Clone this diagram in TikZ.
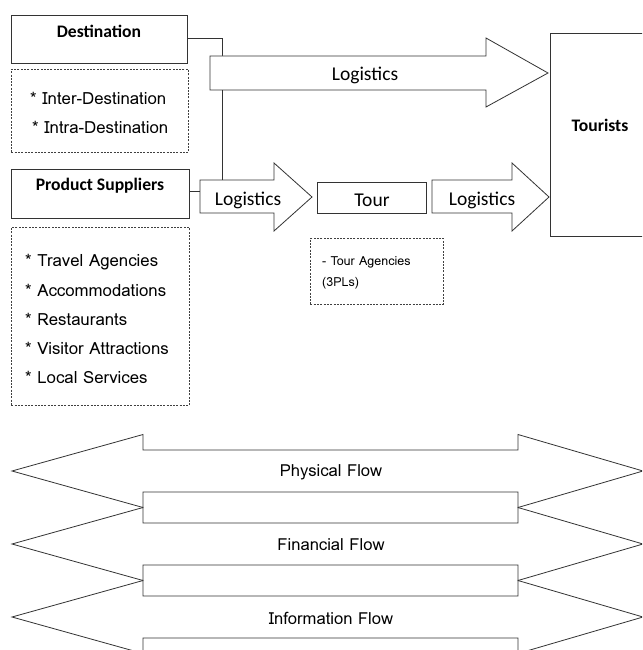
\documentclass[tikz,border=0pt]{standalone}
\usepackage{fontspec}
\setmainfont{Carlito}
\newfontfamily\thinfont{Loma}
\begin{document}
\begin{tikzpicture}[x=1pt,y=-1pt,
  line/.style={draw=black!80, line width=0.8pt},
  boxline/.style={draw=black!80, line width=0.8pt, fill=white},
  dashbox/.style={draw=black!75, line width=0.8pt, dash pattern=on 2pt off 1.3pt},
  boldlbl/.style={font=\bfseries\fontsize{17.6}{20}\selectfont, inner sep=0pt},
  loglbl/.style={font=\fontsize{19.5}{22}\selectfont, inner sep=0pt},
  listlbl/.style={font=\thinfont\fontsize{16.8}{19}\selectfont, inner sep=0pt, anchor=west},
  flowlbl/.style={font=\thinfont\fontsize{16.6}{19}\selectfont, inner sep=0pt},
  smalllbl/.style={font=\thinfont\fontsize{12.5}{14}\selectfont, inner sep=0pt, anchor=west}
]
\clip (0,0) rectangle (642,650);
\fill[white] (0,0) rectangle (642,650);

% Destination
\node[boxline, minimum width=176pt, minimum height=48pt, inner sep=0pt, anchor=north west] (dest) at (11,15) {};
\node[boldlbl] (desttxt) at (99,31) {Destination};
\node[dashbox, minimum width=177pt, minimum height=83pt, inner sep=0pt, anchor=north west] (destlist) at (11,69) {};
\node[listlbl] (inter) at (30,98) {* Inter-Destination};
\node[listlbl] (intra) at (32,127) {* Intra-Destination};

% Product suppliers
\node[boxline, minimum width=178pt, minimum height=49pt, inner sep=0pt, anchor=north west] (supp) at (11,169) {};
\node[boldlbl] (supptxt) at (100,186) {Product Suppliers};
\node[dashbox, minimum width=178pt, minimum height=178pt, inner sep=0pt, anchor=north west] (supplist) at (11,227) {};
\node[listlbl] (l1) at (25,262) {* Travel Agencies};
\node[listlbl] (l2) at (25,290) {* Accommodations};
\node[listlbl] (l3) at (25,319) {* Restaurants};
\node[listlbl] (l4) at (25,348) {* Visitor Attractions};
\node[listlbl] (l5) at (25,377) {* Local Services};

% connector coordinates
\coordinate (la1in) at (200,191);
\coordinate (la1top) at (222,180);
\coordinate (bend) at (222,38);

% connectors (drawn under arrows)
\draw[line] (dest.east |- bend) -- (bend) -- (la1top);
\draw[line] (supp.east |- la1in) -- (la1in);

% top logistics arrow
\draw[boxline] (210,56) -- (486,56) -- (486,38) -- (548,73) -- (486,107) -- (486,90) -- (210,90) -- cycle;
\node[loglbl] (toplog) at (365,75) {Logistics};

% logistics arrow 1
\draw[boxline] (200,180) -- (274,180) -- (274,163) -- (312,197) -- (274,231) -- (274,213) -- (200,213) -- cycle;
\node[loglbl] (log1) at (248,200) {Logistics};

% tour
\node[boxline, minimum width=109pt, minimum height=31pt, inner sep=0pt, anchor=north west] (tour) at (317,182) {};
\node[loglbl] (tourtxt) at (372,200) {Tour};
\node[dashbox, minimum width=133pt, minimum height=66pt, inner sep=0pt, anchor=north west] (tourag) at (310,238) {};
\node[smalllbl] (ta1) at (322,262) {- Tour Agencies};
\node[smalllbl] (ta2) at (322,283) {(3PLs)};

% logistics arrow 2
\draw[boxline] (432,180) -- (512,180) -- (512,163) -- (549,197) -- (512,231) -- (512,213) -- (432,213) -- cycle;
\node[loglbl] (log2) at (482,200) {Logistics};

% tourists
\node[boxline, minimum width=100pt, minimum height=203pt, inner sep=0pt, anchor=north west] (tourists) at (550,33) {};
\node[boldlbl] (touriststxt) at (600,125) {Tourists};

% flows
\foreach \c/\t in {471/Physical Flow, 544/Financial Flow, 617/Information Flow}{
  \draw[line] (143,\c-36.5) -- (12,\c) -- (143,\c+36.5) -- (143,\c+21) -- (518,\c+21) -- (518,\c+36.5) -- (643,\c) -- (518,\c-36.5) -- (518,\c-21) -- (143,\c-21) -- cycle;
  \node[flowlbl] at (331,\c+1) {\t};
}
\end{tikzpicture}
\end{document}
